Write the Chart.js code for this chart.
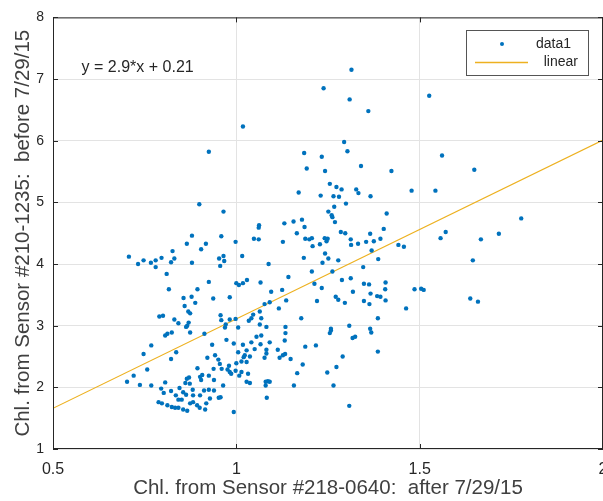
<!DOCTYPE html>
<html>
<head>
<meta charset="utf-8">
<script src="https://cdn.jsdelivr.net/npm/chart.js@4"></script>
<style>
  html, body { margin: 0; padding: 0; background: #fff; overflow: hidden; }
  #wrap { width: 603px; height: 501px; }
</style>
</head>
<body>
<div id="wrap"><canvas id="scatterChart" width="603" height="501"></canvas></div>
<script>
// Chl. after 7/29/15 (sensor #218-0640)
const sensorAfter = [
  1.314, 1.238, 1.309, 1.360, 1.018, 1.294, 1.303, 0.925, 1.185, 1.233,
  1.192, 1.242, 1.340, 1.423, 1.255, 1.273, 1.287, 1.327, 1.333, 1.170,
  1.230, 1.265, 1.280, 1.366, 0.899, 0.965, 1.299, 1.267, 1.251, 1.260,
  1.262, 1.269, 1.410, 1.131, 1.156, 1.179, 1.062,
  1.526, 1.561, 1.649, 1.478, 1.543, 1.777, 1.571, 1.557, 1.667, 1.716,
  1.442, 1.457, 1.645, 1.486, 1.504, 1.511, 1.463, 1.638, 1.659,
  0.707, 0.732, 0.747, 0.767, 0.780, 0.780, 0.796, 0.822, 0.831, 0.826,
  0.865, 0.879, 0.904, 0.917, 0.879, 0.810, 0.816, 0.925, 0.894, 0.856,
  0.878, 0.888, 0.859, 0.869, 0.874, 0.937, 0.982, 0.959, 0.998, 1.016,
  0.953, 0.965, 0.967, 0.956, 1.000, 1.007, 1.018, 1.029, 0.790, 0.800,
  0.831, 0.842, 0.870, 0.866, 0.957, 0.959, 0.982, 0.998, 0.971, 1.034,
  0.806, 0.812, 0.824, 0.863, 0.874, 0.913, 0.768, 0.747, 0.836, 0.822,
  0.757, 0.720, 0.702, 0.737, 0.768, 0.806, 0.795, 0.802, 0.822, 0.845,
  0.865, 0.871, 0.861, 0.873, 0.894, 0.901, 0.907, 0.904, 0.925, 0.939,
  0.881, 0.855, 0.863, 0.835, 0.842, 0.851, 0.788, 0.797, 0.812, 0.824,
  0.833, 0.842, 0.855, 0.866, 0.874, 0.882, 0.893, 0.900, 0.915, 0.918,
  0.912, 0.925, 0.939, 0.952, 0.957, 0.928, 0.901, 0.882, 0.964, 0.993,
  0.934, 0.921, 0.942, 0.951, 0.955, 0.938, 0.960, 0.976, 0.998, 0.980,
  1.000, 1.005, 0.982, 0.986, 1.008, 0.973, 0.993, 0.969, 1.005, 1.018,
  1.028, 1.020, 1.028, 1.014, 1.028, 1.032,
  1.061, 1.186, 1.165, 1.048, 1.061, 1.127, 1.188, 1.199, 1.206, 1.208,
  1.228, 1.241, 1.249, 1.246, 1.285, 1.297, 1.312, 1.313, 1.332, 1.354,
  1.365, 1.375, 1.393, 1.402, 1.369, 1.184, 1.242, 1.251, 1.235, 1.278,
  1.088, 1.387, 1.206, 1.262, 1.346, 1.142, 1.066, 1.213, 1.288, 1.312,
  1.348, 1.362, 1.407, 1.095, 1.125, 1.233, 1.318, 1.366, 1.384, 1.393,
  1.406, 1.271, 1.278, 1.296, 1.348, 1.363, 1.407, 1.136, 1.220, 1.077,
  1.091, 1.116, 1.064, 1.046, 1.041, 1.068, 1.177, 1.386, 1.064, 1.082,
  1.134, 1.258, 1.308, 1.365,
  1.134, 1.132, 1.055, 1.068, 1.041, 1.066, 1.091, 1.050, 1.082, 1.082,
  1.037, 1.023, 1.014, 1.077, 1.113, 1.118, 1.127, 1.133, 1.148, 1.188,
  1.217, 1.255, 1.258, 1.317, 1.324, 1.368, 1.290, 1.386, 1.181, 1.273,
  1.166, 1.248, 1.037, 1.080, 1.086, 1.091, 1.080, 1.157, 1.265, 1.083,
  1.308
];

// Chl. before 7/29/15 (sensor #210-1235), same order as sensorAfter
const sensorBefore = [
  7.15, 6.85, 6.67, 6.48, 6.23, 5.98, 5.83, 5.82, 5.80, 5.74,
  5.55, 5.51, 5.59, 5.51, 5.30, 5.25, 5.21, 5.21, 5.15, 5.16,
  5.11, 5.10, 5.09, 5.10, 4.97, 4.85, 4.98, 4.93, 4.85, 4.79,
  4.76, 4.68, 4.82, 4.66, 4.69, 4.72, 4.63,
  6.73, 5.76, 5.53, 5.19, 5.19, 4.74, 4.52, 4.42, 4.40, 4.49,
  4.31, 4.28, 4.06, 3.59, 3.60, 3.58, 3.28, 3.44, 3.39,
  4.12, 4.00, 4.06, 4.02, 4.06, 3.95, 4.10, 4.03, 4.09, 4.21,
  4.33, 4.46, 4.24, 4.33, 4.02, 3.84, 3.59, 3.71, 3.59, 3.45,
  3.47, 3.37, 3.32, 3.23, 3.20, 3.44, 3.46, 4.45, 4.36, 4.13,
  4.09, 4.13, 4.05, 3.97, 3.69, 3.66, 3.69, 3.74, 3.15, 3.16,
  3.10, 3.04, 3.05, 3.00, 3.17, 3.09, 3.10, 3.11, 3.02, 3.08,
  2.84, 2.87, 2.89, 2.98, 2.89, 2.87, 2.68, 2.54, 2.57, 2.46,
  2.29, 2.19, 2.09, 2.04, 2.03, 2.08, 1.98, 1.91, 1.94, 1.99,
  2.14, 2.16, 2.07, 2.06, 2.31, 2.17, 2.20, 2.12, 2.19, 2.12,
  1.96, 1.92, 1.88, 1.87, 1.80, 1.80, 1.76, 1.74, 1.71, 1.68,
  1.67, 1.67, 1.64, 1.62, 1.74, 1.76, 1.71, 1.67, 1.64, 1.74,
  1.95, 1.96, 1.95, 1.83, 1.84, 1.82, 1.87, 1.87, 2.03, 1.60,
  2.69, 2.48, 2.52, 2.45, 2.38, 2.30, 2.30, 2.29, 2.27, 2.35,
  2.39, 2.57, 2.25, 2.22, 2.19, 2.77, 2.71, 2.97, 2.97, 2.69,
  2.60, 2.49, 2.41, 2.25, 2.09, 2.22,
  4.59, 4.60, 4.50, 4.41, 4.40, 4.36, 4.41, 4.40, 4.42, 4.29,
  4.32, 4.42, 4.41, 4.37, 4.52, 4.50, 4.40, 4.31, 4.33, 4.36,
  4.49, 4.37, 4.41, 4.57, 4.22, 4.10, 4.17, 4.09, 4.02, 4.06,
  4.00, 4.08, 3.88, 3.88, 3.95, 3.79, 3.70, 3.68, 3.74, 3.77,
  3.68, 3.67, 3.70, 3.55, 3.58, 3.61, 3.55, 3.52, 3.48, 3.47,
  3.59, 3.47, 3.42, 3.37, 3.40, 3.35, 3.41, 3.41, 3.40, 3.35,
  3.38, 3.28, 3.23, 3.18, 3.12, 3.12, 3.12, 3.12, 3.02, 2.98,
  2.98, 2.95, 3.00, 2.95,
  2.88, 2.76, 2.82, 2.84, 2.73, 2.70, 2.73, 2.62, 2.61, 2.55,
  2.50, 2.52, 2.42, 2.48, 2.61, 2.48, 2.52, 2.54, 2.46, 2.66,
  2.68, 2.88, 2.92, 2.80, 2.82, 2.89, 2.50, 2.58, 2.37, 2.33,
  2.23, 2.24, 2.07, 2.09, 2.10, 2.09, 2.03, 2.03, 2.03, 1.83,
  1.70
];

// linear fit y = 2.9*x + 0.21, end points as seen on the plot
const fitX = [0.5, 2.0];
const fitY = [1.66, 6.01];

const xTicks = [0.5, 1, 1.5, 2];
const yTicks = [1, 2, 3, 4, 5, 6, 7, 8];

const fitLabel = "y = 2.9*x + 0.21";
const xTitle = "Chl. from Sensor #218-0640:  after 7/29/15";
const yTitle = "Chl. from Sensor #210-1235:  before 7/29/15";

const FONT = "'Liberation Sans', Arial, sans-serif";
const DOT_COLOR = "#0072BD";
const LINE_COLOR = "#EDB120";
const AXIS_COLOR = "#262626";

// box, inner ticks, fit equation and legend (MATLAB look)
const matlabBox = {
  id: "matlabBox",
  afterDraw(chart) {
    const ctx = chart.ctx;
    const a = chart.chartArea;
    const xs = chart.scales.x;
    const ys = chart.scales.y;
    ctx.save();
    ctx.strokeStyle = AXIS_COLOR;
    ctx.lineWidth = 1;
    ctx.strokeRect(a.left + 0.5, a.top + 0.5, a.right - a.left - 1, a.bottom - a.top - 1);

    // ticks pointing inward
    ctx.beginPath();
    xTicks.forEach((v) => {
      const px = Math.round(xs.getPixelForValue(v)) + 0.5;
      ctx.moveTo(px, a.bottom); ctx.lineTo(px, a.bottom - 5);
      ctx.moveTo(px, a.top); ctx.lineTo(px, a.top + 5);
    });
    yTicks.forEach((v) => {
      const py = Math.round(ys.getPixelForValue(v)) + 0.5;
      ctx.moveTo(a.left, py); ctx.lineTo(a.left + 5, py);
      ctx.moveTo(a.right, py); ctx.lineTo(a.right - 5, py);
    });
    ctx.stroke();

    // fit equation
    ctx.fillStyle = AXIS_COLOR;
    ctx.font = "16px " + FONT;
    ctx.textBaseline = "middle";
    ctx.textAlign = "left";
    ctx.fillText(fitLabel, xs.getPixelForValue(0.578), ys.getPixelForValue(7.18));

    // legend
    const lx = 466, ly = 30, lw = 122, lh = 45;
    ctx.fillStyle = "#fff";
    ctx.fillRect(lx, ly, lw, lh);
    ctx.strokeStyle = "#555";
    ctx.strokeRect(lx + 0.5, ly + 0.5, lw, lh);
    ctx.fillStyle = DOT_COLOR;
    ctx.beginPath();
    ctx.arc(lx + 36, ly + 14, 2, 0, Math.PI * 2);
    ctx.fill();
    ctx.strokeStyle = LINE_COLOR;
    ctx.lineWidth = 1.5;
    ctx.beginPath();
    ctx.moveTo(lx + 9, ly + 32.5);
    ctx.lineTo(lx + 62, ly + 32.5);
    ctx.stroke();
    ctx.fillStyle = AXIS_COLOR;
    ctx.font = "14px " + FONT;
    ctx.textAlign = "right";
    ctx.fillText("data1", lx + 105, ly + 14);
    ctx.fillText("linear", lx + 112, ly + 32);
    ctx.restore();
  },
};

const points = sensorAfter.map((x, i) => ({ x: x, y: sensorBefore[i] }));
const fitPoints = fitX.map((x, i) => ({ x: x, y: fitY[i] }));

new Chart(document.getElementById("scatterChart"), {
  type: "scatter",
  data: {
    datasets: [
      {
        label: "data1",
        data: points,
        backgroundColor: DOT_COLOR,
        borderColor: DOT_COLOR,
        pointRadius: 2.2,
        pointBorderWidth: 0,
      },
      {
        label: "linear",
        type: "line",
        data: fitPoints,
        borderColor: LINE_COLOR,
        borderWidth: 1.2,
        pointRadius: 0,
        fill: false,
      },
    ],
  },
  options: {
    responsive: false,
    animation: false,
    // no auto padding: the right edge of the box sits on the border of the picture
    layout: { autoPadding: false, padding: { left: 0, right: 0, top: 15, bottom: 0 } },
    plugins: {
      legend: { display: false },
      tooltip: { enabled: false },
    },
    scales: {
      x: {
        type: "linear",
        min: 0.5,
        max: 2,
        afterBuildTicks: (s) => { s.ticks = xTicks.map((v) => ({ value: v })); },
        afterFit: (s) => { s.height = 52; s.paddingRight = 0; s.paddingLeft = 0; },
        ticks: {
          color: AXIS_COLOR,
          font: { family: FONT, size: 16 },
          padding: 11,
          maxRotation: 0,
          callback: (v) => String(v),
        },
        grid: { color: "#e3e3e3", drawTicks: false },
        border: { display: false },
        title: {
          display: true,
          text: xTitle,
          color: "#404040",
          font: { family: FONT, size: 20.5 },
          padding: { top: 0, bottom: 0 },
        },
      },
      y: {
        type: "linear",
        min: 1,
        max: 8,
        afterBuildTicks: (s) => { s.ticks = yTicks.map((v) => ({ value: v })); },
        afterFit: (s) => { s.width = 53; },
        ticks: {
          color: AXIS_COLOR,
          font: { family: FONT, size: 14 },
          padding: 9,
        },
        grid: { color: "#e3e3e3", drawTicks: false },
        border: { display: false },
        title: {
          display: true,
          text: yTitle,
          color: "#404040",
          font: { family: FONT, size: 20.5 },
          padding: { top: 11, bottom: 0 },
        },
      },
    },
  },
  plugins: [matlabBox],
});
</script>
</body>
</html>
